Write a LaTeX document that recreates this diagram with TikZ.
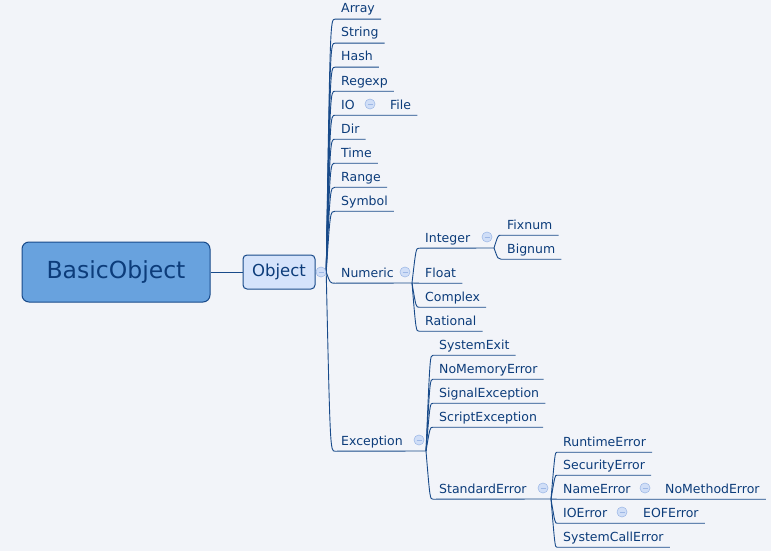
\documentclass[tikz,border=0pt]{standalone}
\usepackage{fontspec}
\setmainfont{DejaVu Sans}
\usetikzlibrary{calc, positioning}

\definecolor{bgc}{RGB}{242,244,249}
\definecolor{linec}{RGB}{24,74,138}
\definecolor{textc}{RGB}{12,60,122}
\definecolor{rootfill}{RGB}{104,162,222}
\definecolor{objfill}{RGB}{213,227,251}
\definecolor{dotfill}{RGB}{208,222,247}
\definecolor{dotline}{RGB}{158,184,230}

\tikzset{
  topic/.style={anchor=west, inner xsep=6pt, inner ysep=0pt, minimum height=22pt,
    text height=10pt, text depth=0pt, text=textc, font=\fontsize{12.5}{14}\selectfont},
  fold/.style={circle, minimum size=10pt, inner sep=0pt, fill=dotfill, draw=dotline,
    path picture={\draw[dotline, line width=0.8pt]
      ([xshift=-2.5pt]path picture bounding box.center) -- ([xshift=2.5pt]path picture bounding box.center);}},
  branch/.style={to path={.. controls ($(\tikztostart|-\tikztotarget)+(4,0)$)
    and ($(\tikztostart|-\tikztotarget)+(4,0)$) .. (\tikztotarget)}},
  link/.style={draw=linec, line width=0.9pt},
}

\begin{document}
\begin{tikzpicture}[x=1pt, y=-1pt]
\useasboundingbox[fill=bgc] (0,0) rectangle (771,551);

\node[draw=linec, line width=1pt, fill=rootfill, rounded corners=7pt, minimum width=188pt,
  minimum height=60pt, text=textc, font=\fontsize{23.5}{28}\selectfont] (bo) at (116,272) {BasicObject};
\node[draw=linec, line width=1pt, fill=objfill, rounded corners=4pt, minimum width=72pt,
  minimum height=34pt, text=textc, font=\fontsize{16.5}{20}\selectfont] (obj) at (279,272) {Object};
\node[fold] (objc) at (321,272) {};

% first level
\node[topic] (arr) at (335,8) {Array};
\node[topic] (str) at (335,32) {String};
\node[topic] (hsh) at (335,56) {Hash};
\node[topic] (rgx) at (335,80) {Regexp};
\node[topic] (io) at (335,104) {IO};
\node[topic] (dir) at (335,128) {Dir};
\node[topic] (tim) at (335,152) {Time};
\node[topic] (rng) at (335,176) {Range};
\node[topic] (sym) at (335,200) {Symbol};
\node[topic] (num) at (335,272) {Numeric};
\node[topic] (exc) at (335,440) {Exception};

\node[fold] (ioc) at (370,104) {};
\node[topic] (fil) at (384,104) {File};

% Numeric
\node[fold] (numc) at (405,272) {};
\coordinate (numo) at (412,283);
\node[topic] (int) at (419,237) {Integer};
\node[topic] (flt) at (419,272) {Float};
\node[topic] (cpx) at (419,296) {Complex};
\node[topic] (rat) at (419,320) {Rational};
\node[fold] (intc) at (487,237) {};
\coordinate (into) at (494,248);
\node[topic] (fix) at (501,224) {Fixnum};
\node[topic] (big) at (501,248) {Bignum};

% Exception
\node[fold] (excc) at (419,440) {};
\coordinate (exco) at (426,451);
\node[topic] (sex) at (433,344) {SystemExit};
\node[topic] (nme) at (433,368) {NoMemoryError};
\node[topic] (sig) at (433,392) {SignalException};
\node[topic] (scr) at (433,416) {ScriptException};
\node[topic] (std) at (433,488) {StandardError};
\node[fold] (stdc) at (543,488) {};
\coordinate (stdo) at (551,499);
\node[topic] (rte) at (557,441) {RuntimeError};
\node[topic] (sec) at (557,464) {SecurityError};
\node[topic] (nam) at (557,488) {NameError};
\node[topic] (ioe) at (557,512) {IOError};
\node[topic] (sce) at (557,536) {SystemCallError};
\node[fold] (namc) at (645,488) {};
\node[topic] (nmt) at (659,488) {NoMethodError};
\node[fold] (ioec) at (622,512) {};
\node[topic] (eof) at (637,512) {EOFError};

\draw[link] (bo.east) -- (obj.west);
\draw[link] (obj.east) -- (objc.west);
\foreach \n in {arr,str,hsh,rgx,dir,tim,rng,sym}
  \draw[link] (objc.east) to[branch] (\n.south west) -- (\n.south east);
\draw[link] (objc.east) to[branch] (io.south west) -- (fil.south east);
\draw[link] (objc.east) to[branch] (num.south west) -- (numo);
\draw[link] (objc.east) to[branch] (exc.south west) -- (exco);

\foreach \n in {flt,cpx,rat}
  \draw[link] (numo) to[branch] (\n.south west) -- (\n.south east);
\draw[link] (numo) to[branch] (int.south west) -- (into);
\foreach \n in {fix,big}
  \draw[link] (into) to[branch] (\n.south west) -- (\n.south east);

\foreach \n in {sex,nme,sig,scr}
  \draw[link] (exco) to[branch] (\n.south west) -- (\n.south east);
\draw[link] (exco) to[branch] (std.south west) -- (stdo);
\foreach \n in {rte,sec,sce}
  \draw[link] (stdo) to[branch] (\n.south west) -- (\n.south east);
\draw[link] (stdo) to[branch] (nam.south west) -- (nmt.south east);
\draw[link] (stdo) to[branch] (ioe.south west) -- (eof.south east);

% fold marks on top of the lines
\foreach \p in {{321,272},{370,104},{405,272},{487,237},{419,440},{543,488},{645,488},{622,512}}
  \node[fold] at (\p) {};
\end{tikzpicture}
\end{document}
